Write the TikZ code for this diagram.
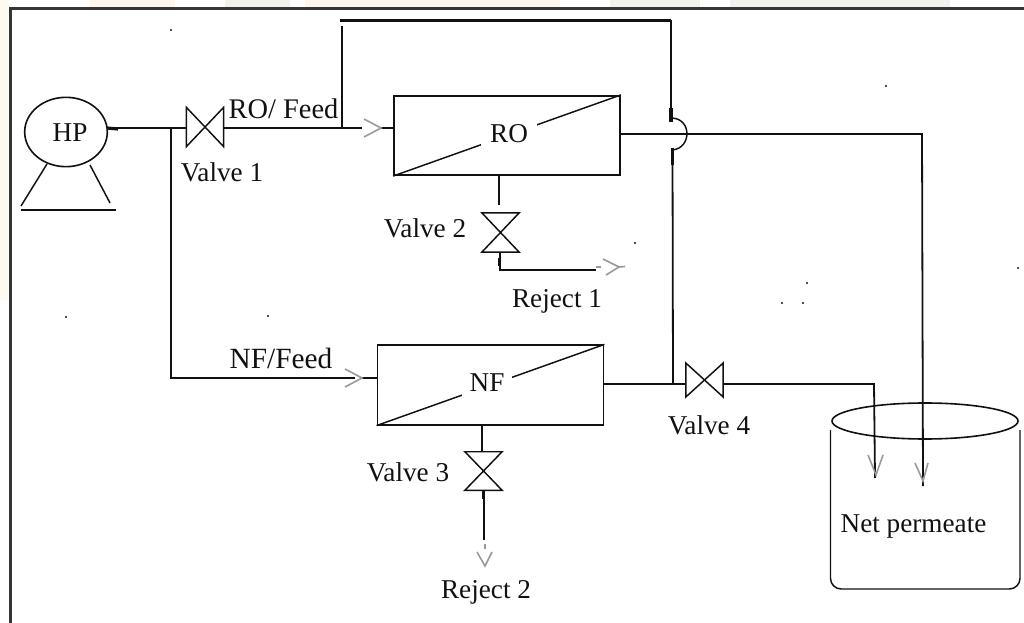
\documentclass[tikz,border=0pt]{standalone}
\usepackage{fontspec}
\setmainfont{Liberation Serif}
\usetikzlibrary{shapes.geometric,calc}
\definecolor{lineink}{HTML}{111111}
\definecolor{chevron}{HTML}{9A9A9A}
\definecolor{washorange}{HTML}{FDF5EE}
\definecolor{washgray}{HTML}{F3F1EE}
\definecolor{washcream}{HTML}{FDFAF0}
\tikzset{
  pipe/.style={draw=lineink,line width=1.35pt},
  thin pipe/.style={draw=lineink,line width=1.1pt},
  stub/.style={draw=lineink,line width=2.4pt},
  chev/.style={draw=chevron,line width=1.2pt},
  lab/.style={font=\fontsize{20.4}{24}\selectfont,text=lineink,inner sep=0pt},
  membrane/.style={rectangle,draw=lineink,line width=1.35pt,minimum width=169.5pt,minimum height=59.5pt,inner sep=0pt},
  valvebody/.style={rectangle,draw=none,inner sep=0pt,minimum width=27.5pt,minimum height=29pt},
  speck/.style={fill=lineink,draw=none}
}
\newcommand{\valveH}[1]{\draw[thin pipe,line join=miter] (#1.north west)--(#1.south east)--(#1.north east)--(#1.south west)--cycle;}
\newcommand{\valveV}[1]{\draw[thin pipe,line join=miter] (#1.north west)--(#1.north east)--(#1.south west)--(#1.south east)--cycle;}
\begin{document}
\begin{tikzpicture}[x=0.75pt,y=-0.75pt]
\useasboundingbox (0,0) rectangle (1024,623);
% faded backdrop in the margins
\fill[white] (0,0) rectangle (1024,623);
\fill[washorange] (90,0) rectangle (175,7);
\fill[washgray] (225,0) rectangle (290,7);
\fill[washorange] (305,0) rectangle (560,7);
\fill[washgray] (610,0) rectangle (700,7);
\fill[washgray] (730,0) rectangle (950,7);
\fill[washcream] (0,0) rectangle (8,300);
% frame
\draw[draw=lineink!85,line width=1.7pt] (10.5,623) -- (10.5,8.5) -- (1024,8.5);
% equipment
\node[ellipse,draw=lineink,line width=1.2pt,minimum width=62pt,minimum height=52pt,inner sep=0pt] (hp) at (66,132) {};
\node[lab] (hplabel) at (70,133) {HP};
\node[membrane] (ro) at (507,135.5) {};
\node[membrane] (nf) at (490.5,385) {};
\draw[thin pipe] (ro.south west) -- (ro.north east);
\draw[thin pipe] (nf.south west) -- (nf.north east);
\node[lab,fill=white,inner xsep=6.5pt,inner ysep=3pt] (rolabel) at (509,134) {RO};
\node[lab,fill=white,inner xsep=6pt,inner ysep=3pt] (nflabel) at (487,383) {NF};
% valves
\node[valvebody] (v1) at (205,127) {};
\node[valvebody,minimum height=29pt] (v2) at (500.5,232.5) {};
\node[valvebody,minimum height=28.5pt] (v3) at (483.5,471) {};
\node[valvebody,minimum height=25pt] (v4) at (704.5,380) {};
\valveH{v1}
\valveV{v2}
\valveV{v3}
\valveH{v4}
% pump stand
\coordinate (legLa) at (47,164);
\coordinate (legLb) at (21,206);
\coordinate (legRa) at (90,165);
\coordinate (legRb) at (110,203);
\coordinate (baseL) at (21,210);
\coordinate (baseR) at (116,210);
\draw[thin pipe] (legLa) -- (legLb);
\draw[thin pipe] (legRa) -- (legRb);
\draw[thin pipe] (baseL) -- (baseR);
% feed lines
\coordinate (pumpOut) at (107,128);
\coordinate (pumpStub) at (118,129);
\coordinate (nfBranch) at (171,128);
\coordinate (roBranch) at (342,128);
\coordinate (roTip) at (381,128);
\coordinate (nfCorner) at (171,378);
\coordinate (nfIn) at (355,378);
\coordinate (nfTip) at (362,378);
\draw[stub] (pumpOut) -- (pumpStub);
\draw[pipe] (pumpOut) -- (nfBranch) -- (v1.west |- nfBranch);
\draw[pipe] (v1.east |- roBranch) -- (roBranch) -- (362,128);
\draw[pipe] (nfBranch) -- (nfCorner) -- (nfIn);
\draw[pipe] (roTip -| ro.west) -- (roTip);
\draw[pipe] (nfTip) -- (nfTip -| nf.west);
\draw[chev] ([shift={(-17,-9)}]roTip) -- (roTip) -- ([shift={(-17,9)}]roTip);
\draw[chev] ([shift={(-17,-9)}]nfTip) -- (nfTip) -- ([shift={(-17,9)}]nfTip);
% bypass with jump over the RO permeate line
\coordinate (bypassA) at (342,26);
\coordinate (topL) at (340,20.5);
\coordinate (topR) at (671,20.5);
\coordinate (jumpTop) at (671,118);
\coordinate (jumpBot) at (672.5,150);
\coordinate (nfJoin) at (673,384);
\draw[pipe] (roBranch) -- (bypassA);
\draw[draw=lineink,line width=1.7pt] (topL) -- (topR);
\draw[pipe] (topR) -- (jumpTop);
\draw[thin pipe] (jumpTop) .. controls (692,118) and (692,148) .. (jumpBot);
\draw[pipe] (jumpBot) -- (nfJoin);
\draw[stub] (671,108) -- (671,122);
\draw[stub] (672.5,148) -- (672.5,165);
% RO and NF permeate
\coordinate (roOut) at (622,134);
\coordinate (roCorner) at (922,134);
\coordinate (roEnd) at (923,486);
\draw[pipe] (ro.east |- roOut) -- (roCorner) -- (roEnd);
\draw[pipe] (nf.east |- nfJoin) -- (nfJoin) -- (v4.west |- nfJoin);
\coordinate (v4Corner) at (874,384);
\coordinate (v4End) at (875,478);
\draw[pipe] (v4.east |- nfJoin) -- (v4Corner) -- (v4End);
\draw[chev] (915,463) -- (923,481) -- (928,463);
\draw[chev] (868,455) -- (876,475) -- (883,455);
% rejects
\coordinate (r1Corner) at (500,270);
\coordinate (r1End) at (596,270);
\coordinate (r1Tip) at (619,267);
\coordinate (r2End) at (484,540);
\coordinate (r2Tip) at (485,566);
\draw[pipe] (ro.south -| 499,0) -- (499,205);
\draw[pipe] (v2.south -| r1Corner) -- (r1Corner) -- (r1End);
\draw[stub] (499.5,258) -- (499.5,266);
\draw[chev] ([shift={(-16,-8)}]r1Tip) -- (r1Tip) -- ([shift={(-13,8)}]r1Tip);
\draw[chev] (596,267) -- (601,267);
\draw[chev] (r1Tip) -- (625,266.5);
\draw[pipe] (482,425) -- (v3.north -| 482,0);
\draw[pipe] (v3.south -| r2End) -- (r2End);
\draw[stub] (483.5,491) -- (483.5,499);
\draw[chev] ([shift={(-8,-14)}]r2Tip) -- (r2Tip) -- ([shift={(7,-14)}]r2Tip);
\draw[chev] (485,544) -- (485,549);
% tank
\node[ellipse,draw=lineink,line width=1.2pt,minimum width=139.5pt,minimum height=27pt,inner sep=0pt] (tanktop) at (925,421) {};
\coordinate (tankA) at (830.5,430);
\coordinate (tankB) at (830.5,589);
\coordinate (tankC) at (1020,589);
\coordinate (tankD) at (1020,430);
\draw[thin pipe,rounded corners=8pt] (tankA) -- (tankB) -- (tankC) -- (tankD);
% labels
\node[lab] (l1) at (222,172) {Valve 1};
\node[lab] (l2) at (425,228) {Valve 2};
\node[lab] (l3) at (408,472) {Valve 3};
\node[lab] (l4) at (709,425) {Valve 4};
\node[lab,font=\fontsize{21.3}{24}\selectfont] (rofeed) at (283.5,109) {RO/ Feed};
\node[lab,font=\fontsize{22}{24}\selectfont] (nffeed) at (281,358) {NF/Feed};
\node[lab] (rej1) at (557,301) {Reject 1};
\node[lab] (rej2) at (486,592) {Reject 2};
\node[lab] (net) at (913.5,526) {Net permeate};
% specks
\foreach \sx/\sy in {171/30,886/86,635/243,807/283,782/303,803/303,66/317,268/316,1018/268}
  \fill[speck] (\sx,\sy) circle (0.8pt);
\end{tikzpicture}
\end{document}
